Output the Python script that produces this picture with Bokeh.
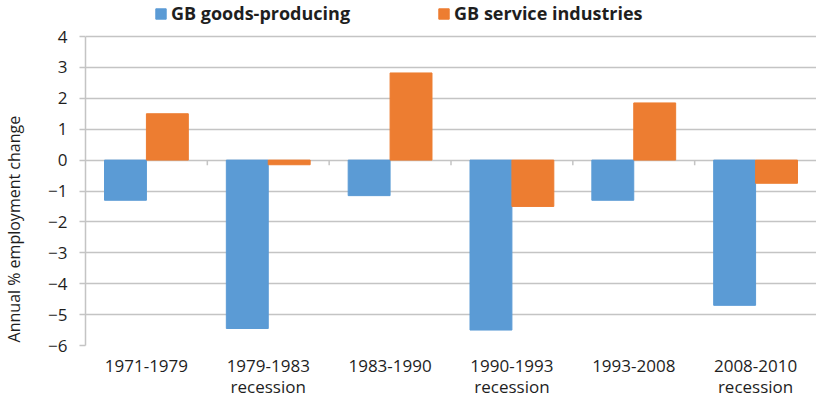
from bokeh.plotting import figure
from bokeh.models import (Range1d, FixedTicker, Legend, LegendItem, ColumnDataSource,
                          LinearAxis)
from bokeh.transform import dodge
from bokeh.embed import file_html
from bokeh.resources import INLINE

periods = ["1971-1979", "1979-1983", "1983-1990", "1990-1993", "1993-2008", "2008-2010"]
period_notes = ["", "recession", "", "recession", "", "recession"]
goods = [-1.3, -5.45, -1.15, -5.5, -1.3, -4.7]
services = [1.5, -0.15, 2.82, -1.5, 1.85, -0.75]
series_names = ["GB goods-producing", "GB service industries"]
series_colors = ["#5b9bd5", "#ed7d31"]
y_ticks = [-6, -5, -4, -3, -2, -1, 0, 1, 2, 3, 4]
y_title = "Annual % employment change"

FONT = "Open Sans"
GRID = "#c4c4c4"
TXT = "#1e1e1e"

n = len(periods)
centers = [i + 0.5 for i in range(n)]
src = ColumnDataSource(dict(x=centers, goods=goods, services=services))
bounds = list(range(1, n))
bnd = ColumnDataSource(dict(x=bounds, y0=[0] * len(bounds), y1=[-0.17] * len(bounds)))

# headroom above the top tick keeps the legend inside the frame
head = (y_ticks[-1] - y_ticks[0]) * 36 / 309
p = figure(width=816, height=405, output_backend="svg", toolbar_location=None,
           x_range=Range1d(0, n), y_range=Range1d(y_ticks[0], y_ticks[-1] + head),
           min_border_left=84, min_border_right=0, min_border_bottom=60,
           min_border_top=0, outline_line_color=None)

r1 = p.vbar(x=dodge("x", -0.172), top="goods", width=0.344,
            source=src, color=series_colors[0])
r2 = p.vbar(x=dodge("x", 0.172), top="services", width=0.344,
            source=src, color=series_colors[1])
p.segment(x0="x", x1="x", y0="y0", y1="y1", source=bnd, line_color=GRID, line_width=1.5)

p.xgrid.grid_line_color = None
p.ygrid.grid_line_color = GRID
p.ygrid.grid_line_width = 1.5

p.yaxis.ticker = FixedTicker(ticks=y_ticks)
p.yaxis.bounds = (y_ticks[0], y_ticks[-1])
p.yaxis.axis_line_color = GRID
p.yaxis.axis_line_width = 1.5
p.yaxis.major_tick_line_color = GRID
p.yaxis.major_tick_line_width = 1.5
p.yaxis.major_tick_out = 6
p.yaxis.major_tick_in = 0
p.yaxis.minor_tick_line_color = None
p.yaxis.major_label_text_font = FONT
p.yaxis.major_label_text_font_size = "17px"
p.yaxis.major_label_text_color = TXT
p.yaxis.major_label_standoff = 12
p.yaxis.axis_label = y_title + "\u00a0" * 27
p.yaxis.axis_label_text_font = FONT
p.yaxis.axis_label_text_font_size = "16px"
p.yaxis.axis_label_text_font_style = "normal"
p.yaxis.axis_label_text_color = TXT
p.yaxis.axis_label_standoff = 20


def style_x(ax, labels, standoff):
    ax.ticker = FixedTicker(ticks=centers)
    ax.major_label_overrides = {c: lab for c, lab in zip(centers, labels)}
    ax.axis_line_color = None
    ax.major_tick_line_color = None
    ax.major_tick_out = 0
    ax.major_tick_in = 0
    ax.minor_tick_line_color = None
    ax.major_label_text_font = FONT
    ax.major_label_text_font_size = "17px"
    ax.major_label_text_color = TXT
    ax.major_label_standoff = standoff


style_x(p.xaxis[0], periods, 14)
ax2 = LinearAxis()
style_x(ax2, period_notes, 0)
p.add_layout(ax2, "below")

legend = Legend(items=[LegendItem(label=series_names[0], renderers=[r1]),
                       LegendItem(label=series_names[1], renderers=[r2])],
                orientation="horizontal", location=(69, 320),
                label_text_font=FONT, label_text_font_style="bold",
                label_text_font_size="18px", label_text_color=TXT,
                glyph_width=13, glyph_height=13, label_standoff=4,
                spacing=87, padding=2, margin=0,
                border_line_color=None, background_fill_alpha=0)
p.add_layout(legend, "center")

open("out.html", "w").write(file_html(p, INLINE))
